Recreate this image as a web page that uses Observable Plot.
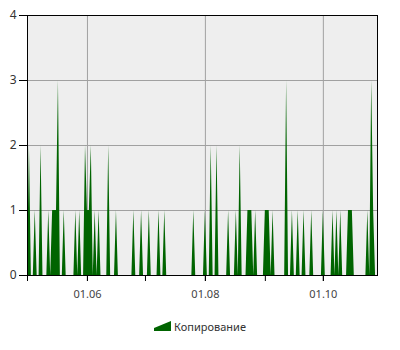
<!DOCTYPE html>
<html>
<head>
<meta charset="utf-8">
<script src="https://cdn.jsdelivr.net/npm/d3@7"></script>
<script src="https://cdn.jsdelivr.net/npm/@observablehq/plot@0.6"></script>
<style>
  html, body { margin: 0; padding: 0; background: #fff; }
  #chart svg { display: block; }
  #legend { height: 24px; margin-top: 4px; display: flex; justify-content: center; align-items: center;
    font-family: 'Noto Sans', sans-serif; font-size: 11px; color: #333; }
  #legend svg { margin-right: 3px; }
</style>
</head>
<body>
<div id="chart"></div>
<div id="legend"></div>
<script>
// Series: daily number of copies starting 01.05
const seriesName = "Копирование";
const startDate = "2013-05-01";
const endDate = "2013-10-29";
const counts = [
  0,2,0,0,1,0,0,2,0,0, 0,1,0,1,1,1,3,0,0,1,
  0,0,0,0,0,1,0,1,0,0, 2,1,1,2,0,1,0,1,0,0,
  0,0,2,0,0,0,1,0,0,0, 0,0,0,0,0,1,0,0,0,1,
  0,0,0,1,0,0,0,0,1,0, 0,1,0,0,0,0,0,0,0,0,
  0,0,0,0,0,0,1,0,0,0, 0,0,1,0,0,2,0,0,2,0,
  0,0,0,0,1,0,0,0,1,0, 2,0,0,0,1,1,1,0,1,0,
  0,0,0,1,1,1,0,1,0,0, 0,0,0,0,3,0,0,1,0,0,
  1,0,0,1,0,0,0,1,0,0, 0,0,0,1,0,0,0,0,1,0,
  1,0,1,0,0,0,1,1,1,0, 0,0,0,0,0,0,1,0,3,1,
  0,0
];
const yTicks = [0, 1, 2, 3, 4];
const yGrid = [1, 2, 3];
const monthTicks = ["2013-05-01", "2013-06-01", "2013-07-01", "2013-08-01", "2013-09-01", "2013-10-01"];
const labelTicks = ["2013-06-01", "2013-08-01", "2013-10-01"];
const tickLabels = ["01.06", "01.08", "01.10"];

const start = new Date(startDate + "T00:00:00Z");
const data = counts.map((v, i) => ({date: d3.utcDay.offset(start, i), value: v}));
const monthDates = monthTicks.map(s => new Date(s + "T00:00:00Z"));
const labelDates = labelTicks.map(s => new Date(s + "T00:00:00Z"));
const labelMap = new Map(labelDates.map((d, i) => [+d, tickLabels[i]]));

const chart = Plot.plot({
  width: 400,
  height: 310,
  marginLeft: 27,
  marginRight: 23,
  marginTop: 15,
  marginBottom: 35,
  style: {fontFamily: "'Noto Sans', sans-serif", fontSize: "11px", background: "#fff", overflow: "visible"},
  x: {type: "utc", domain: [start, new Date(endDate + "T00:00:00Z")], axis: null},
  y: {domain: [0, 4], axis: null},
  marks: [
    Plot.frame({fill: "#eeeeee", stroke: "none"}),
    Plot.gridY(yGrid, {stroke: "#a0a0a0", strokeOpacity: 1}),
    Plot.gridX(labelDates, {stroke: "#a0a0a0", strokeOpacity: 1}),
    Plot.areaY(data, {x: "date", y: "value", fill: "#006400", curve: "linear"}),
    Plot.frame({stroke: "#000"}),
    Plot.axisY({ticks: yTicks, tickSize: 8, tickPadding: 3, label: null, stroke: "#000", fill: "#333",
      fontSize: 12, tickFormat: d => String(d)}),
    Plot.axisX({ticks: monthDates, tickSize: 6, text: null, label: null, stroke: "#000"}),
    Plot.axisX({ticks: labelDates, tickSize: 6, tickPadding: 9, label: null, stroke: "#000", fill: "#444",
      tickFormat: d => labelMap.get(+d)})
  ]
});
document.getElementById("chart").appendChild(chart);

const legend = document.getElementById("legend");
legend.innerHTML = `<svg width="17" height="10"><polygon points="0,7 17,0 17,10 0,10" fill="#006400"></polygon></svg><span>${seriesName}</span>`;
</script>
</body>
</html>
